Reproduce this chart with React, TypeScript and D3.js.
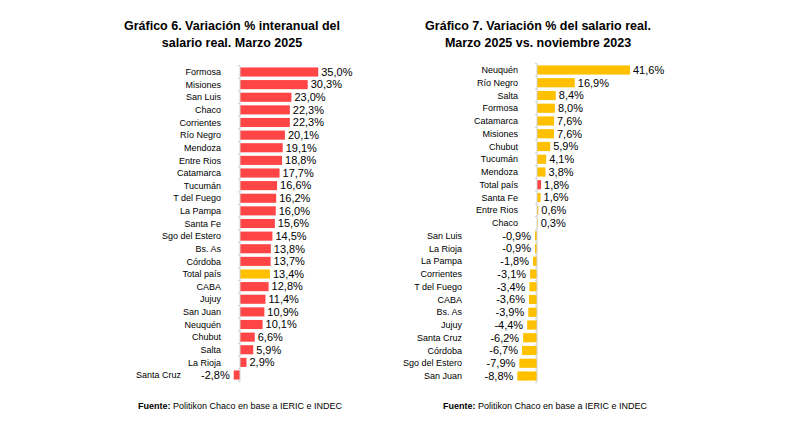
import React from 'react';
import * as d3 from 'd3';

const leftCats = ['Formosa','Misiones','San Luis','Chaco','Corrientes','Río Negro','Mendoza','Entre Rios','Catamarca','Tucumán','T del Fuego','La Pampa','Santa Fe','Sgo del Estero','Bs. As','Córdoba','Total país','CABA','Jujuy','San Juan','Neuquén','Chubut','Salta','La Rioja','Santa Cruz'];
const leftVals = [35.0,30.3,23.0,22.3,22.3,20.1,19.1,18.8,17.7,16.6,16.2,16.0,15.6,14.5,13.8,13.7,13.4,12.8,11.4,10.9,10.1,6.6,5.9,2.9,-2.8];
const rightCats = ['Neuquén','Río Negro','Salta','Formosa','Catamarca','Misiones','Chubut','Tucumán','Mendoza','Total país','Santa Fe','Entre Rios','Chaco','San Luis','La Rioja','La Pampa','Corrientes','T del Fuego','CABA','Bs. As','Jujuy','Santa Cruz','Córdoba','Sgo del Estero','San Juan'];
const rightVals = [41.6,16.9,8.4,8.0,7.6,7.6,5.9,4.1,3.8,1.8,1.6,0.6,0.3,-0.9,-0.9,-1.8,-3.1,-3.4,-3.6,-3.9,-4.4,-6.2,-6.7,-7.9,-8.8];

const RED = '#ff4545';
const YEL = '#ffc000';
const FONT = "'Liberation Sans', Arial, sans-serif";

const fmt = (v: number) => v.toFixed(1).replace('.', ',') + '%';

interface PanelProps {
  cats: string[]; vals: number[]; zeroX: number; y0: number; y1: number; negLabelX: number;
  main: string; alt: string; title: string[]; titleX: number; fuenteX: number;
}

const Panel: React.FC<PanelProps> = ({ cats, vals, zeroX, y0, y1, negLabelX, main, alt, title, titleX, fuenteX }) => {
  const x = d3.scaleLinear().domain([0, 10]).range([zeroX, zeroX + 22.35]);
  const step = (y1 - y0) / (cats.length - 1);
  const y = d3.scaleBand().domain(cats).range([y0 - step / 2, y1 + step / 2]).paddingInner(0.28).paddingOuter(0.14);
  const labelX = zeroX - 19;
  return (
    <g fontFamily={FONT}>
      {title.map((t, i) => (
        <text key={i} x={titleX} y={30 + i * 17} textAnchor="middle" fontWeight="bold" fontSize={12.5} fill="#000">{t}</text>
      ))}
      {cats.map((c, i) => {
        const v = vals[i];
        const yy = y(c)!;
        const bh = y.bandwidth();
        const xa = Math.min(x(0), x(v));
        const w = Math.abs(x(v) - x(0));
        return (
          <g key={c}>
            <text x={v >= 0 ? labelX : negLabelX} y={yy + bh / 2} dy="0.35em" textAnchor="end" fontSize={9} fill="#000">{c}</text>
            <rect x={xa} y={yy} width={w} height={bh} fill={c === 'Total país' ? alt : main} />
            <text x={v >= 0 ? x(v) + 3 : x(v) - 4} y={yy + bh / 2} dy="0.35em" textAnchor={v >= 0 ? 'start' : 'end'} fontSize={11} fill="#000">{fmt(v)}</text>
          </g>
        );
      })}
      <line x1={zeroX} x2={zeroX} y1={y0 - step / 2} y2={y1 + step / 2} stroke="#d0d0d0" />
      {d3.range(cats.length + 1).map(i => (
        <line key={i} x1={zeroX - 2} x2={zeroX} y1={y0 - step / 2 + i * step} y2={y0 - step / 2 + i * step} stroke="#d0d0d0" />
      ))}
      <text x={fuenteX} y={409} fontSize={9} fill="#000"><tspan fontWeight="bold">Fuente:</tspan> Politikon Chaco en base a IERIC e INDEC</text>
    </g>
  );
};

export default function App() {
  return (
    <svg width={791} height={433} style={{ position: 'absolute', left: 0, top: 0, background: '#fff' }}>
      <rect width={791} height={433} fill="#fff" />
      <Panel cats={leftCats} vals={leftVals} zeroX={240} y0={72} y1={375} negLabelX={181} main={RED} alt={YEL}
        title={['Gráfico 6. Variación % interanual del', 'salario real. Marzo 2025']} titleX={232} fuenteX={138} />
      <Panel cats={rightCats} vals={rightVals} zeroX={537} y0={70} y1={376} negLabelX={462} main={YEL} alt={RED}
        title={['Gráfico 7. Variación % del salario real.', 'Marzo 2025 vs. noviembre 2023']} titleX={538} fuenteX={443} />
    </svg>
  );
}
